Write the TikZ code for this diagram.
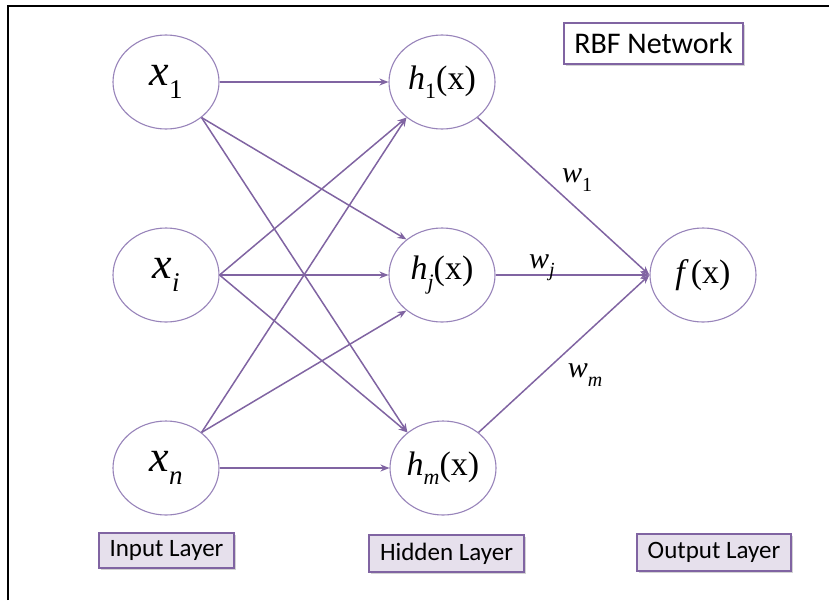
\documentclass[tikz,border=0pt]{standalone}
\usepackage{fontspec}
\setmainfont{Liberation Serif}
\newfontfamily\calib{Carlito}
\usetikzlibrary{arrows.meta,shapes.geometric,shadows}
\definecolor{purp}{RGB}{128,100,162}
\definecolor{purpl}{RGB}{152,132,186}
\definecolor{lav}{RGB}{230,224,236}
\newcommand{\lsub}[2][22]{\raisebox{-0.28em}{\fontsize{#1}{#1}\selectfont #2}}
\begin{document}
\begin{tikzpicture}[x=1pt,y=-1pt,
  neuron/.style={ellipse, draw=purpl, line width=1.1pt, minimum width=106pt, minimum height=94pt, inner sep=0pt, fill=white},
  inlab/.style={font=\fontsize{44}{44}\selectfont},
  hlab/.style={font=\fontsize{34}{34}\selectfont},
  conn/.style={draw=purp, line width=1.5pt, -{Stealth[length=9pt,width=7pt]}},
  layerbox/.style={draw=purp, line width=1.8pt, fill=lav, inner sep=0pt,
    font=\calib\fontsize{25}{25}\selectfont,
    drop shadow={shadow xshift=1.5pt, shadow yshift=-1.5pt, opacity=0.35}},
  titlebox/.style={draw=purp, line width=1.6pt, fill=white, inner sep=0pt,
    font=\calib\fontsize{30}{30}\selectfont,
    drop shadow={shadow xshift=1.5pt, shadow yshift=-1.5pt, opacity=0.35}},
  wlab/.style={font=\fontsize{30}{30}\selectfont, inner sep=0pt}]
\useasboundingbox (0,0) rectangle (829,600);
\draw[line width=2.5pt, line join=miter] (8,600) -- (8,6) -- (829,6);

% input layer
\node[neuron, inlab] (x1) at (166,82) {\textit{x}\lsub[27]{1}};
\node[neuron, inlab] (xi) at (166,275) {\textit{x}\lsub[27]{\textit{i}}};
\node[neuron, inlab] (xn) at (166,468) {\textit{x}\lsub[27]{\textit{n}}};

% hidden layer
\node[neuron, hlab] (h1) at (442,82) {\textit{h}\lsub[22]{1}(x)};
\node[neuron, hlab] (hj) at (442,275) {\textit{h}\lsub[22]{\textit{j}}(x)};
\node[neuron, hlab] (hm) at (443,468) {\textit{h}\lsub[22]{\textit{m}}(x)};

% output
\node[neuron, hlab] (f) at (703,275) {\textit{f}\kern0.06em(x)};

% connectors input -> hidden
\draw[conn] (x1) -- (h1);
\draw[conn] (x1.-45) -- (hj.135);
\draw[conn] (x1.-45) -- (hm.135);
\draw[conn] (xi.east) -- (h1.225);
\draw[conn] (xi) -- (hj);
\draw[conn] (xi.east) -- (hm.135);
\draw[conn] (xn.45) -- (h1.225);
\draw[conn] (xn.45) -- (hj.225);
\draw[conn] (xn) -- (hm);

% connectors hidden -> output
\draw[conn] (h1.-45) -- (f.west);
\draw[conn] (hj) -- (f);
\draw[conn] (hm.45) -- (f.west);

% weights
\node[wlab] (w1) at (577,180) {\textit{w}\lsub[20]{1}};
\node[wlab] (wj) at (542,268) {\textit{w}\lsub[20]{\textit{j}}};
\node[wlab] (wm) at (585,375) {\textit{w}\lsub[20]{\textit{m}}};

% boxes
\node[titlebox, minimum width=179pt, minimum height=41pt] (title) at (653.5,43.5) {RBF Network};
\node[layerbox, minimum width=135pt, minimum height=35pt] (inl) at (166.5,550.5) {Input Layer};
\node[layerbox, minimum width=155pt, minimum height=37pt] (hidl) at (446.5,553.5) {Hidden Layer};
\node[layerbox, minimum width=154pt, minimum height=37pt] (outl) at (714,552.5) {Output Layer};
\end{tikzpicture}
\end{document}
